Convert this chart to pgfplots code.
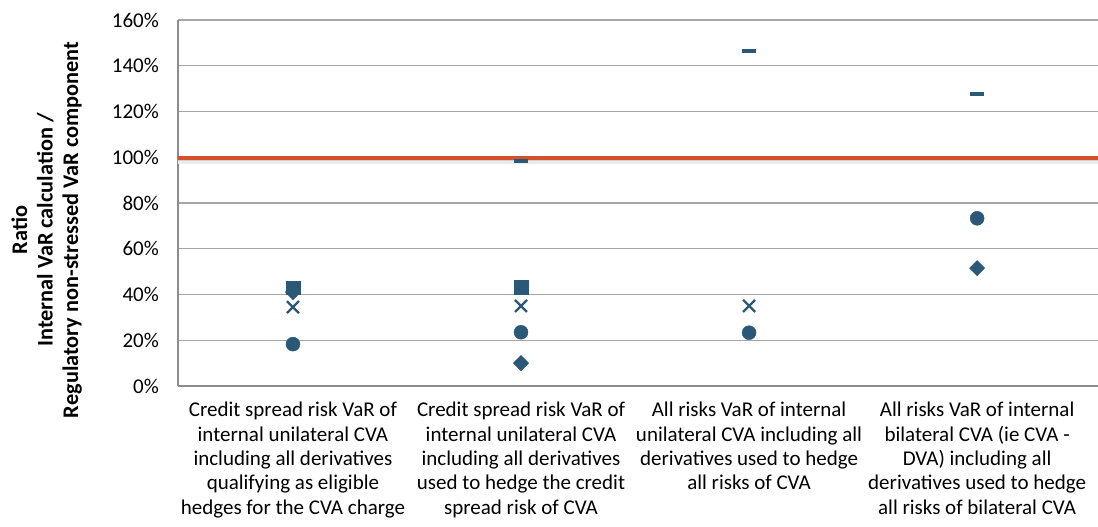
\documentclass[border=0pt]{standalone}
\usepackage{fontspec}
\setmainfont{Carlito}
\usepackage{pgfplots}
\pgfplotsset{compat=1.18}
\definecolor{mk}{HTML}{2C5878}
\definecolor{redl}{HTML}{D5512B}
\definecolor{gridc}{HTML}{A6A6A6}
\begin{document}
\fontsize{21}{24.4}\selectfont
\begin{tikzpicture}
\useasboundingbox (0,0) rectangle (1098pt,527pt);
\begin{axis}[
  at={(178pt,141pt)}, anchor=south west,
  scale only axis, width=920pt, height=366pt,
  xmin=-0.504, xmax=3.53, ymin=0, ymax=160,
  axis lines*=left,
  axis line style={draw=gray!90, line width=1.2pt},
  ymajorgrids, grid style={draw=gridc, line width=1.3pt},
  ytick={0,20,...,160},
  yticklabels={0\%,20\%,40\%,60\%,80\%,100\%,120\%,140\%,160\%},
  xtick={0,1,2,3},
  major tick length=0pt,
  tick label style={font=\fontsize{21}{24.4}\selectfont},
  yticklabel style={inner sep=0pt, xshift=-19pt},
  xticklabel style={align=center, inner sep=0pt, yshift=-16pt, anchor=north},
  xticklabels={
    {Credit spread risk VaR of\\internal unilateral CVA\\including all derivatives\\qualifying as eligible\\hedges for the CVA charge},
    {Credit spread risk VaR of\\internal unilateral CVA\\including all derivatives\\used to hedge the credit\\spread risk of CVA},
    {All risks VaR of internal\\unilateral CVA including all\\derivatives used to hedge\\all risks of CVA},
    {All risks VaR of internal\\bilateral CVA (ie CVA -\\DVA) including all\\derivatives used to hedge\\all risks of bilateral CVA}},
  ylabel={Ratio\\Internal VaR calculation /\\Regulatory non-stressed VaR component},
  ylabel style={at={([xshift=-96pt, yshift=-27pt]rel axis cs:0,0.5)}, rotate=0, anchor=south, align=center, inner sep=0pt, font=\fontsize{22.3}{25.5}\selectfont\bfseries},
  clip=false,
]
% shadow of reference line
\addplot[draw=black!18, line width=3pt, forget plot] coordinates {(-0.504,98.6) (3.53,98.6)};
\addplot[draw=black!8, line width=3pt, forget plot] coordinates {(-0.504,97.6) (3.53,97.6)};
% max (dash)
\addplot[only marks, mark=-, mark size=7pt, mark options={draw=mk, line width=4pt}] coordinates {(1,98.5) (2,146.5) (3,127.5)};
% diamond
\addplot[only marks, mark=square*, mark size=5.4pt, mark options={draw=mk, fill=mk, rotate=45}] coordinates {(0,41) (1,10) (3,51.5)};
% square
\addplot[only marks, mark=square*, mark size=6.8pt, mark options={draw=mk, fill=mk}] coordinates {(0,43) (1,43.2)};
% cross
\addplot[only marks, mark=x, mark size=8.5pt, mark options={draw=mk, line width=2.3pt}] coordinates {(0,34.5) (1,35) (2,35)};
% circle
\addplot[only marks, mark=*, mark size=7pt, mark options={draw=mk, fill=mk}] coordinates {(0,18.3) (1,23.5) (2,23.3) (3,73.3)};
% reference line 100%
\addplot[draw=redl, line width=4.5pt, forget plot] coordinates {(-0.504,99.7) (3.53,99.7)};
\end{axis}
\end{tikzpicture}
\end{document}
